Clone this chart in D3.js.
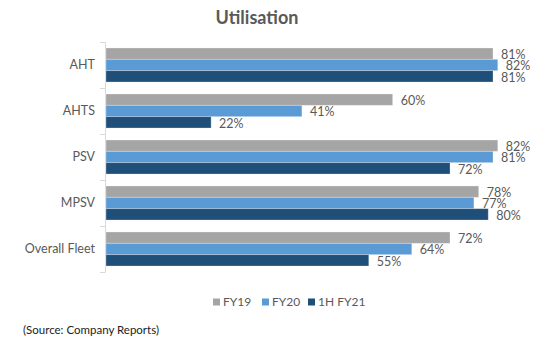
<!DOCTYPE html>
<html><head><meta charset="utf-8">
<script src="https://cdn.jsdelivr.net/npm/d3@7"></script>
<style>body{margin:0;background:#fff}svg{display:block}</style>
</head><body>
<svg id="c" width="555" height="348"></svg>
<script>
const categories = ["AHT", "AHTS", "PSV", "MPSV", "Overall Fleet"];
const seriesNames = ["FY19", "FY20", "1H FY21"];
const fy19 = [81, 60, 82, 78, 72];
const fy20 = [82, 41, 81, 77, 64];
const h1fy21 = [81, 22, 72, 80, 55];
const colors = ["#a5a5a5", "#5b9bd5", "#1f4e79"];

const series = [fy19, fy20, h1fy21];
const font = "Lato, 'Liberation Sans', sans-serif";
const svg = d3.select("#c");

const x = d3.scaleLinear().domain([0, 100]).range([106, 583.8]);
const y = d3.scaleBand().domain(categories).range([42, 272]).paddingInner(0.26).paddingOuter(0.13);
const yInner = d3.scaleBand().domain(seriesNames).range([0, y.bandwidth()]);

// title
svg.append("text").attr("x", 257).attr("y", 24).attr("text-anchor", "middle")
  .attr("font-family", font).attr("font-weight", "bold").attr("font-size", 18)
  .attr("fill", "#595959").text("Utilisation");

// axis line with tick marks at band boundaries
const axisG = svg.append("g");
axisG.append("line").attr("x1", 105.5).attr("x2", 105.5).attr("y1", 42).attr("y2", 272)
  .attr("stroke", "#d9d9d9");
const step = (272 - 42) / categories.length;
d3.range(categories.length + 1).forEach(i => {
  axisG.append("line").attr("x1", 100).attr("x2", 105.5)
    .attr("y1", 42 + i * step + 0.5).attr("y2", 42 + i * step + 0.5).attr("stroke", "#d9d9d9");
});

// category labels
svg.append("g").selectAll("text").data(categories).join("text")
  .attr("x", 95).attr("y", d => 42 + categories.indexOf(d) * step + step / 2)
  .attr("dy", "0.35em").attr("text-anchor", "end")
  .attr("font-family", font).attr("font-size", 12.5).attr("fill", "#595959").text(d => d);

// bars
const groups = svg.append("g").selectAll("g").data(categories).join("g")
  .attr("transform", d => `translate(0,${y(d)})`);
groups.selectAll("rect").data((d, i) => series.map((s, k) => ({k, v: s[i]}))).join("rect")
  .attr("x", x(0)).attr("y", d => yInner(seriesNames[d.k]))
  .attr("width", d => x(d.v) - x(0)).attr("height", yInner.bandwidth())
  .attr("fill", d => colors[d.k]).attr("stroke", "rgba(255,255,255,0.35)").attr("stroke-width", 0.8);
groups.selectAll("text").data((d, i) => series.map((s, k) => ({k, v: s[i]}))).join("text")
  .attr("x", d => x(d.v) + 8).attr("y", d => yInner(seriesNames[d.k]) + yInner.bandwidth() / 2 + 1)
  .attr("dy", "0.35em").attr("font-family", font).attr("font-size", 12.5)
  .attr("fill", "#595959").text(d => d.v + "%");

// legend
const legendX = [213, 262, 308];
const leg = svg.append("g").selectAll("g").data(seriesNames).join("g")
  .attr("transform", (d, i) => `translate(${legendX[i]},302)`);
leg.append("rect").attr("x", 0).attr("y", -3.5).attr("width", 7).attr("height", 7)
  .attr("fill", (d, i) => colors[i]);
leg.append("text").attr("x", 10).attr("dy", "0.35em").attr("font-family", font)
  .attr("font-size", 12).attr("fill", "#595959").text(d => d);

// source
svg.append("text").attr("x", 23).attr("y", 330).attr("dy", "0.35em")
  .attr("font-family", font).attr("font-size", 11.5).attr("fill", "#222")
  .text("(Source: Company Reports)");
</script>
</body></html>
